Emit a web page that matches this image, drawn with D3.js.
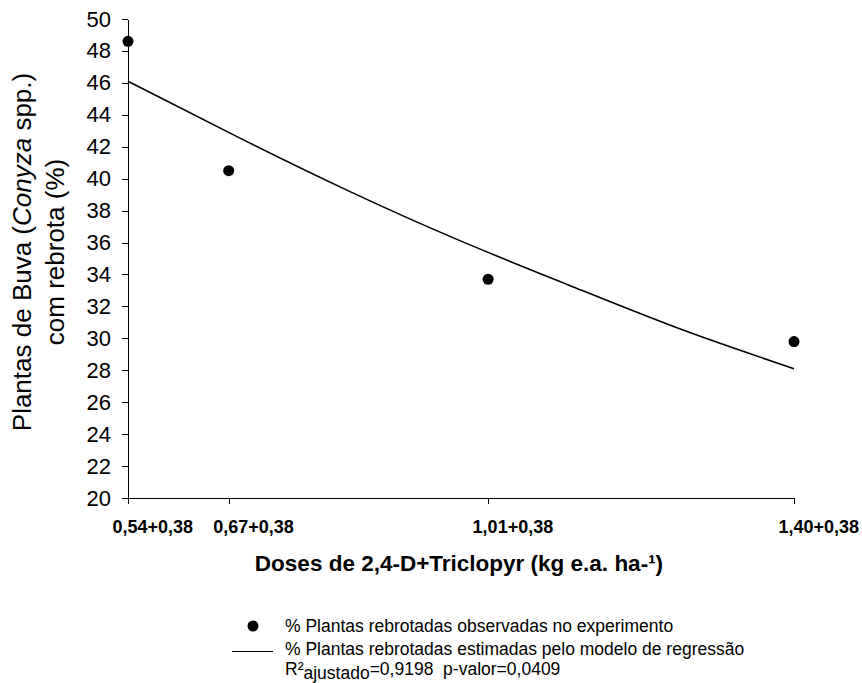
<!DOCTYPE html>
<meta charset="utf-8">
<style>
body { margin: 0; background: #fff; }
svg { font-family: Arial, "Liberation Sans", sans-serif; }
.axis path, .axis line { fill: none; stroke: #000; stroke-width: 1px; shape-rendering: crispEdges; }
.y.axis text { font-size: 22px; fill: #000; }
.x.axis text { font-size: 18px; font-weight: bold; fill: #000; }
path.fit { fill: none; stroke: #000; stroke-width: 1.6px; }
.legend text { font-size: 17.5px; fill: #000; }
</style>
<body>
<div id="chart"></div>
</body>
<script src="https://d3js.org/d3.v7.min.js"></script>
<script>

// doses of 2,4-D (kg e.a. ha-1) as placed on the x axis
var doses = [0.54, 0.67, 1.005, 1.40];
var doseLabels = ["0,54+0,38", "0,67+0,38", "1,01+0,38", "1,40+0,38"];

// observed regrowth (%)
var observed = [48.6, 40.5, 33.7, 29.8];

// regression curve
var fitX = [0.54, 0.682, 0.824, 0.967, 1.111, 1.255, 1.40];
var fitY = [46.1, 42.6, 39.25, 36.15, 33.3, 30.55, 28.1];

var yTicks = d3.range(20, 51, 2);

var W = 862, H = 683;
var svg = d3.select("#chart").append("svg")
    .attr("width", W)
    .attr("height", H);

var x = d3.scaleLinear().domain([0.54, 1.40]).range([128, 794]),
    y = d3.scaleLinear().domain([20, 50]).range([498, 19]);

// y axis
svg.append("g")
    .attr("class", "y axis")
    .attr("transform", "translate(128,0)")
    .call(d3.axisLeft(y).tickValues(yTicks).tickSize(6).tickPadding(11).tickSizeOuter(0));

// x axis
var xAxis = svg.append("g")
    .attr("class", "x axis")
    .attr("transform", "translate(0,498)")
    .call(d3.axisBottom(x).tickValues(doses).tickSize(6).tickSizeOuter(0)
      .tickFormat(function(d, i) { return doseLabels[i]; }));
xAxis.selectAll("text")
    .attr("text-anchor", "start")
    .attr("x", -16)
    .attr("y", 35)
    .attr("dy", 0);

// regression line
var line = d3.line()
    .curve(d3.curveNatural)
    .x(function(d) { return x(d[0]); })
    .y(function(d) { return y(d[1]); });

svg.append("path")
    .attr("class", "fit")
    .attr("d", line(d3.zip(fitX, fitY)));

// observed points
svg.selectAll("circle.obs")
    .data(d3.zip(doses, observed))
  .enter().append("circle")
    .attr("class", "obs")
    .attr("cx", function(d) { return x(d[0]); })
    .attr("cy", function(d) { return y(d[1]); })
    .attr("r", 5.5)
    .style("fill", "#000");

// axis titles
svg.append("text")
    .attr("x", 459)
    .attr("y", 571)
    .attr("text-anchor", "middle")
    .style("font-size", "22.5px")
    .style("font-weight", "bold")
    .text("Doses de 2,4-D+Triclopyr (kg e.a. ha-¹)");

var ytitle = svg.append("text")
    .attr("transform", "translate(0,252) rotate(-90)")
    .attr("text-anchor", "middle")
    .style("font-size", "26px");
var t1 = ytitle.append("tspan").attr("x", 0).attr("y", 31);
t1.append("tspan").text("Plantas de Buva (");
t1.append("tspan").style("font-style", "italic").text("Conyza");
t1.append("tspan").text(" spp.)");
ytitle.append("tspan").attr("x", 0).attr("y", 64).text("com rebrota (%)");

// legend
var legend = svg.append("g").attr("class", "legend");
legend.append("circle")
    .attr("cx", 253).attr("cy", 626).attr("r", 5.5)
    .style("fill", "#000");
legend.append("text")
    .attr("x", 285).attr("y", 632)
    .text("% Plantas rebrotadas observadas no experimento");
legend.append("line")
    .attr("x1", 232).attr("x2", 273)
    .attr("y1", 651.5).attr("y2", 651.5)
    .style("stroke", "#000").style("stroke-width", 1);
legend.append("text")
    .attr("x", 285).attr("y", 655)
    .text("% Plantas rebrotadas estimadas pelo modelo de regressão");
var r2 = legend.append("text")
    .attr("x", 285).attr("y", 675)
    .attr("xml:space", "preserve");
r2.append("tspan").text("R²");
r2.append("tspan").attr("dy", 3.5).text("ajustado");
r2.append("tspan").attr("dy", -3.5).text("=0,9198\u00a0\u00a0p-valor=0,0409");

</script>
